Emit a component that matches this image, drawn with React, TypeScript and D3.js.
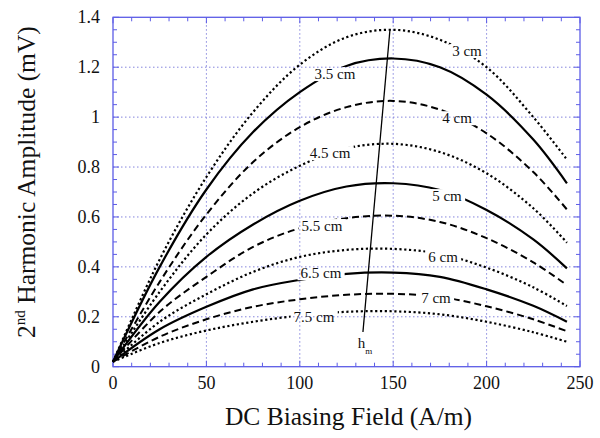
import React, { useEffect, useRef } from 'react';
import * as d3 from 'd3';

// ---- data ----
const fieldValues = [0, 25, 50, 75, 100, 125, 150, 175, 200, 225, 243];
const amp3cm = [0.02, 0.43, 0.76, 1.02, 1.21, 1.32, 1.35, 1.31, 1.2, 1.0, 0.83];
const amp35cm = [0.02, 0.4, 0.71, 0.94, 1.1, 1.205, 1.235, 1.2, 1.09, 0.91, 0.735];
const amp4cm = [0.02, 0.34, 0.61, 0.82, 0.96, 1.04, 1.065, 1.03, 0.935, 0.78, 0.63];
const amp45cm = [0.02, 0.3, 0.53, 0.695, 0.805, 0.875, 0.893, 0.86, 0.775, 0.635, 0.497];
const amp5cm = [0.02, 0.26, 0.44, 0.57, 0.665, 0.722, 0.735, 0.708, 0.628, 0.51, 0.394];
const amp55cm = [0.02, 0.22, 0.36, 0.48, 0.555, 0.595, 0.605, 0.58, 0.515, 0.418, 0.327];
const amp6cm = [0.02, 0.18, 0.29, 0.38, 0.44, 0.468, 0.472, 0.452, 0.397, 0.318, 0.243];
const amp65cm = [0.02, 0.15, 0.24, 0.31, 0.348, 0.372, 0.377, 0.36, 0.31, 0.244, 0.18];
const amp7cm = [0.02, 0.12, 0.19, 0.24, 0.27, 0.288, 0.292, 0.28, 0.242, 0.19, 0.142];
const amp75cm = [0.02, 0.095, 0.145, 0.18, 0.205, 0.22, 0.222, 0.21, 0.18, 0.138, 0.1];

const seriesNames = ['3 cm', '3.5 cm', '4 cm', '4.5 cm', '5 cm', '5.5 cm', '6 cm', '6.5 cm', '7 cm', '7.5 cm'];
const seriesValues = [amp3cm, amp35cm, amp4cm, amp45cm, amp5cm, amp55cm, amp6cm, amp65cm, amp7cm, amp75cm];
const seriesDash = ['dotted', 'solid', 'dashed', 'dotted', 'solid', 'dashed', 'dotted', 'solid', 'dashed', 'dotted'];
const labelX = [189.5, 118.8, 184.2, 116.2, 178.8, 111.9, 176.7, 111.3, 172.9, 107.6];
const labelY = [1.265, 1.173, 0.996, 0.856, 0.684, 0.564, 0.44, 0.375, 0.275, 0.199];

const hmLineX = [148.3, 133.8];
const hmLineY = [1.353, 0.139];
const hmLabelX = 131;
const hmLabelY = 0.075;

const xTicks = [0, 50, 100, 150, 200, 250];
const yTicks = [0, 0.2, 0.4, 0.6, 0.8, 1, 1.2, 1.4];

const W = 600;
const H = 438;
const M = { left: 113, right: 20, top: 17.3, bottom: 71.3 };
const FONT = 'Liberation Serif';
const BLUE = '#5c5ce6';
const GRID = '#8585dd';

export default function App() {
  const ref = useRef<SVGSVGElement>(null);

  useEffect(() => {
    const svg = d3.select(ref.current);
    svg.selectAll('*').remove();

    const x = d3.scaleLinear().domain([0, 250]).range([M.left, W - M.right]);
    const y = d3.scaleLinear().domain([0, 1.4]).range([H - M.bottom, M.top]);
    const x0 = x(0), x1 = x(250), y0 = y(0), y1 = y(1.4);

    // grid
    const grid = svg.append('g');
    xTicks.filter(t => t > 0 && t < 250).forEach(t => {
      grid.append('line').attr('x1', x(t)).attr('x2', x(t)).attr('y1', y0).attr('y2', y1)
        .attr('stroke', GRID).attr('stroke-width', 1).attr('stroke-dasharray', '1.5,2.5');
    });
    yTicks.filter(t => t > 0 && t < 1.4).forEach(t => {
      grid.append('line').attr('x1', x0).attr('x2', x1).attr('y1', y(t)).attr('y2', y(t))
        .attr('stroke', GRID).attr('stroke-width', 1).attr('stroke-dasharray', '1.5,2.5');
    });

    // ticks (inside, all 4 sides)
    const tk = svg.append('g').attr('stroke', BLUE).attr('stroke-width', 1);
    d3.range(0, 251, 10).forEach(v => {
      const major = v % 50 === 0;
      const L = major ? 6 : 4;
      tk.append('line').attr('x1', x(v)).attr('x2', x(v)).attr('y1', y0).attr('y2', y0 - L);
      tk.append('line').attr('x1', x(v)).attr('x2', x(v)).attr('y1', y1).attr('y2', y1 + L);
    });
    d3.range(0, 29).map(i => i * 0.05).forEach((v, i) => {
      const major = i % 4 === 0;
      const L = major ? 6 : 4;
      tk.append('line').attr('y1', y(v)).attr('y2', y(v)).attr('x1', x0).attr('x2', x0 + L);
      tk.append('line').attr('y1', y(v)).attr('y2', y(v)).attr('x1', x1).attr('x2', x1 - L);
    });

    // frame
    svg.append('rect').attr('x', x0).attr('y', y1).attr('width', x1 - x0).attr('height', y0 - y1)
      .attr('fill', 'none').attr('stroke', BLUE).attr('stroke-width', 1.3);

    // tick labels
    const fmt = (v: number) => String(+v.toFixed(1));
    xTicks.forEach(t => {
      svg.append('text').attr('x', x(t)).attr('y', y0 + 22).attr('text-anchor', 'middle')
        .attr('font-size', 18).attr('fill', '#111').text(fmt(t));
    });
    yTicks.forEach(t => {
      svg.append('text').attr('x', x0 - 13).attr('y', y(t)).attr('dy', '0.34em').attr('text-anchor', 'end')
        .attr('font-size', 18).attr('fill', '#111').text(fmt(t));
    });

    // axis titles
    svg.append('text').attr('x', (x0 + x1) / 2 + 2).attr('y', 425).attr('text-anchor', 'middle')
      .attr('font-size', 25.5).attr('fill', '#111').text('DC Biasing Field (A/m)');
    const yt = svg.append('text').attr('transform', `translate(35, 182) rotate(-90)`)
      .attr('text-anchor', 'middle').attr('font-size', 25.5).attr('fill', '#111');
    yt.append('tspan').text('2');
    yt.append('tspan').attr('font-size', 15).attr('dy', -10).text('nd');
    yt.append('tspan').attr('dy', 10).text(' Harmonic Amplitude (mV)');

    // labels first (to measure)
    const labelG = svg.append('g');
    const boxes: { x: number; y: number; w: number; h: number }[] = [];
    seriesNames.forEach((n, i) => {
      const t = labelG.append('text').attr('x', x(labelX[i])).attr('y', y(labelY[i])).attr('dy', '0.34em')
        .attr('text-anchor', 'middle').attr('font-size', 15).attr('fill', '#111').text(n);
      const b = (t.node() as SVGTextElement).getBBox();
      boxes.push({ x: b.x - 3, y: b.y + 1, w: b.width + 6, h: b.height - 2 });
    });

    // mask
    const defs = svg.append('defs');
    const mask = defs.append('mask').attr('id', 'labelMask').attr('maskUnits', 'userSpaceOnUse')
      .attr('x', 0).attr('y', 0).attr('width', W).attr('height', H);
    mask.append('rect').attr('x', 0).attr('y', 0).attr('width', W).attr('height', H).attr('fill', 'white');
    boxes.forEach(b => mask.append('rect').attr('x', b.x).attr('y', b.y).attr('width', b.w).attr('height', b.h).attr('fill', 'black'));

    const curves = svg.append('g').attr('mask', 'url(#labelMask)');
    const line = d3.line<number>().x((_, i) => x(fieldValues[i])).y(d => y(d)).curve(d3.curveCatmullRom.alpha(0.5));
    seriesValues.forEach((vals, i) => {
      const p = curves.append('path').attr('d', line(vals)).attr('fill', 'none').attr('stroke', '#000');
      const s = seriesDash[i];
      if (s === 'dotted') p.attr('stroke-width', 2.2).attr('stroke-dasharray', '2.2,2.6');
      else if (s === 'dashed') p.attr('stroke-width', 2).attr('stroke-dasharray', '7,4');
      else p.attr('stroke-width', 2.2);
    });

    // hm line
    svg.append('line').attr('x1', x(hmLineX[0])).attr('y1', y(hmLineY[0])).attr('x2', x(hmLineX[1])).attr('y2', y(hmLineY[1]))
      .attr('stroke', '#000').attr('stroke-width', 1.3);
    const hm = svg.append('text').attr('x', x(hmLabelX)).attr('y', y(hmLabelY))
      .attr('font-size', 15).attr('fill', '#111');
    hm.append('tspan').text('h');
    hm.append('tspan').attr('font-size', 9).attr('dy', 6).text('m');
  }, []);

  return (
    <div style={{ position: 'absolute', left: 0, top: 0 }}>
      <svg ref={ref} width={W} height={H} style={{ display: 'block', background: '#fff', fontFamily: FONT }} />
    </div>
  );
}
